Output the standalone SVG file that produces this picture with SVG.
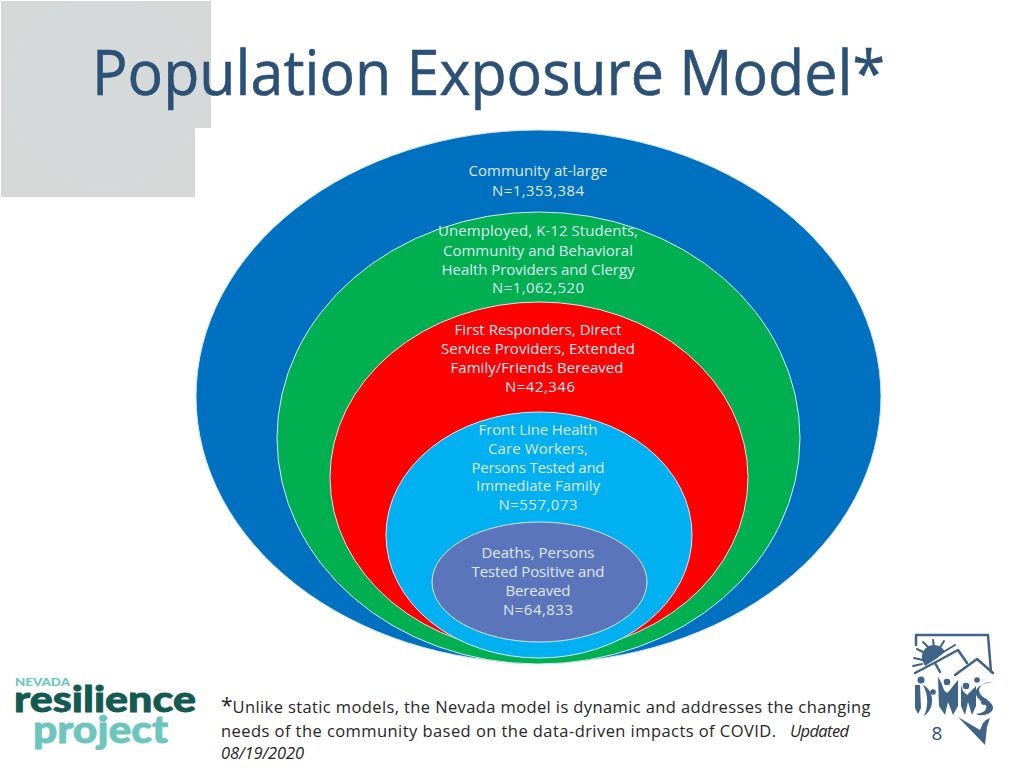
<svg xmlns="http://www.w3.org/2000/svg" width="1024" height="768" viewBox="0 0 1024 768">
<style>
.lab{font-family:"Open Sans","Noto Sans","Liberation Sans",sans-serif;font-size:15px;fill:#dfeaf5;text-anchor:middle}
.note{font-family:"Open Sans","Noto Sans","Liberation Sans",sans-serif;font-size:16.5px;fill:#262626}
.ring{stroke:#d5e8f5;stroke-width:1}
.dh{fill:#3f6488}
.dl{fill:none;stroke:#3f6488;stroke-linecap:round;stroke-linejoin:round}
</style>
<defs>
<clipPath id="backClip"><path d="M1 1H211V128H195V197H1Z"/></clipPath>
</defs>
<rect width="1024" height="768" fill="#ffffff"/>
<g id="backdrop">
<path d="M1 1H211V128H195V197H1Z" fill="#d6d7d7"/>
<ellipse cx="105" cy="92" rx="98" ry="97" fill="#d6d9d9" clip-path="url(#backClip)"/>
</g>
<text id="title" x="92" y="95" font-family="'Open Sans','Noto Sans','Liberation Sans',sans-serif" font-size="62" fill="#2b5176" stroke="#2b5176" stroke-width="0.6" textLength="793" lengthAdjust="spacingAndGlyphs">Population Exposure Model*</text>
<g id="connectors"></g>
<g id="community">
<ellipse cx="538.500" cy="396.500" rx="342.500" ry="266.500" fill="#0070c0" class="ring"/>
<text class="lab"><tspan x="538" y="176" textLength="139">Community at-large</tspan><tspan x="538" y="195.500" textLength="92">N=1,353,384</tspan></text>
</g>
<g id="unemployed">
<ellipse cx="538.500" cy="438" rx="261.500" ry="226" fill="#00b050" class="ring"/>
<text class="lab"><tspan x="538" y="236" textLength="200">Unemployed, K-12 Students,</tspan><tspan x="538" y="255.500" textLength="190">Community and Behavioral</tspan><tspan x="538" y="274.500" textLength="193">Health Providers and Clergy</tspan><tspan x="538" y="293" textLength="92">N=1,062,520</tspan></text>
</g>
<g id="responders">
<ellipse cx="539" cy="477.500" rx="209" ry="175.500" fill="#ff0000" class="ring"/>
<text class="lab"><tspan x="538" y="335" textLength="167">First Responders, Direct</tspan><tspan x="538" y="354" textLength="194">Service Providers, Extended</tspan><tspan x="537" y="373" textLength="173">Family/Friends Bereaved</tspan><tspan x="540" y="391.500" textLength="70">N=42,346</tspan></text>
</g>
<g id="frontline">
<ellipse cx="539" cy="535" rx="153" ry="123" fill="#00b0f0" class="ring"/>
<text class="lab"><tspan x="538" y="435" textLength="119">Front Line Health</tspan><tspan x="538" y="453.500" textLength="100">Care Workers,</tspan><tspan x="538" y="472.500" textLength="133">Persons Tested and</tspan><tspan x="538" y="491" textLength="124">Immediate Family</tspan><tspan x="538" y="510" textLength="79">N=557,073</tspan></text>
</g>
<g id="deaths">
<ellipse cx="539.500" cy="582" rx="107.500" ry="60" fill="#5b75bd" class="ring"/>
<text class="lab"><tspan x="538" y="558" textLength="113">Deaths, Persons</tspan><tspan x="538" y="577" textLength="133">Tested Positive and</tspan><tspan x="538" y="596" textLength="65">Bereaved</tspan><tspan x="538" y="614.500" textLength="70">N=64,833</tspan></text>
</g>
<g id="resilience-logo" font-family="Lato,'Open Sans','Liberation Sans',sans-serif" font-weight="900">
<text x="15" y="686" font-size="10.500" fill="#6cc6bd" textLength="55" lengthAdjust="spacingAndGlyphs">NEVADA</text>
<text x="14" y="712" font-size="36" fill="#135a50" stroke="#135a50" stroke-width="0.8" textLength="182" lengthAdjust="spacingAndGlyphs">resilience</text>
<text x="33" y="743" font-size="38" fill="#6cc6bd" stroke="#6cc6bd" stroke-width="0.8" textLength="135" lengthAdjust="spacingAndGlyphs">project</text>
</g>
<g id="footnote">
<text class="note"><tspan x="221" y="713" font-size="21">*</tspan><tspan y="713" textLength="638">Unlike static models, the Nevada model is dynamic and addresses the changing</tspan></text>
<text class="note" x="221" y="737" textLength="555">needs of the community based on the data-driven impacts of COVID.</text>
<text class="note" x="790" y="737" font-size="14.500" font-style="italic" textLength="59">Updated</text>
<text class="note" x="221" y="759" font-size="14.500" font-style="italic" textLength="83">08/19/2020</text>
</g>
<g id="dhhs-logo">
<path class="dl" stroke-width="2.500" d="M916 645V635H988L991 672"/>
<path class="dh" d="M923 662A11.500 11.500 0 0 1 945 652L936 659L925 666Z"/>
<path class="dl" stroke-width="2" d="M923 642L929 648M933 640L934 647M944 641L940 648M955 645L945 651M917 649L925 653M914 658L923 660M913 666L922 664"/>
<path class="dl" stroke-width="2.500" d="M915 673L936 662L958 650L967 663M935 663L940 672M955 675L977 659L993 673"/>
<circle class="dh" cx="921" cy="680" r="3.500"/>
<path class="dh" d="M915 685H920L921 708L918 714L915 708ZM923 685C934 690 936 708 924 716C928 708 929 696 923 685Z"/>
<circle class="dh" cx="933" cy="692" r="2.800"/>
<path class="dh" d="M938 677L941 682L944 690L947 693L950 690L953 686L958 680V706L953 715L948 702L945 715L939 706Z"/>
<circle class="dh" cx="947" cy="682" r="3.300"/>
<path class="dh" d="M961 685L963 691L967 695L971 691L976 686V706L972 715L968 702L965 715L961 706Z"/>
<circle class="dh" cx="966" cy="686" r="3.300"/>
<circle class="dh" cx="977" cy="680" r="2.800"/>
<path class="dh" d="M992 682C980 682 976 690 982 696C989 701 997 706 991 712C986 716 979 716 976 714C984 713 989 709 985 704C975 698 968 686 992 682Z"/>
<circle class="dh" cx="984" cy="702" r="3"/>
<path class="dh" d="M958 717L980 730L983 723L986 720L990 718L987 727L985 745Z"/>
</g>
<text id="slide-number" x="937" y="740" font-family="'Open Sans','Noto Sans','Liberation Sans',sans-serif" font-size="19" fill="#2b5176" text-anchor="middle">8</text>
</svg>
